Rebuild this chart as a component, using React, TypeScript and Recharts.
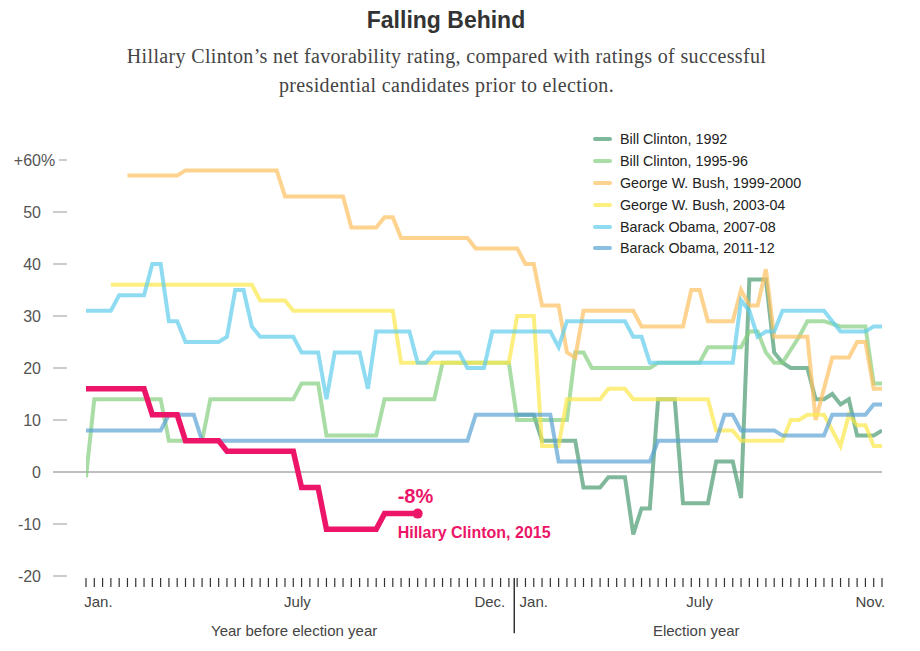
import { LineChart, Line, XAxis, YAxis, ReferenceLine, Legend } from "recharts";

// x values are weeks, counted from Jan. 1 of the year before the election
const weekTicks = Array.from({ length: 97 }, (_, i) => i);
const monthTickWeeks = [1.5, 25.5, 48.7, 54, 74, 94.6];
const monthTickLabels = ["Jan.", "July", "Dec.", "Jan.", "July", "Nov."];
const sectionTickWeeks = [25.1, 73.6];
const sectionTickLabels = ["Year before election year", "Election year"];
const yTicks = [-20, -10, 0, 10, 20, 30, 40, 50, 60];
const yearBoundary = 51.65;

// [week, net favorability %]
const billClinton1992: [number, number][] = [
  [52, 11], [54, 11], [55, 6], [59, 6], [60, -3], [62, -3], [63, -1], [65, -1],
  [66, -12], [67, -7], [68, -7], [69, 14], [71, 14], [72, -6], [75, -6], [76, 2],
  [78, 2], [79, -5], [80, 37], [82, 37], [83, 23], [84, 21], [85, 20], [87, 20],
  [88, 14], [89, 14], [90, 15], [91, 13], [92, 14], [93, 7], [95, 7], [96, 8],
];
const billClinton1995: [number, number][] = [
  [0, -1], [1, 14], [9, 14], [10, 6], [14, 6], [15, 14], [25, 14], [26, 17],
  [28, 17], [29, 7], [35, 7], [36, 14], [42, 14], [43, 21], [51, 21], [52, 10],
  [58, 10], [59, 23], [60, 23], [61, 20], [68, 20], [69, 21], [74, 21], [75, 24],
  [79, 24], [80, 27], [81, 27], [82, 23], [83, 21], [84, 21], [86, 26], [87, 29],
  [89, 29], [91, 28], [94, 28], [95, 17], [96, 17],
];
const bush1999: [number, number][] = [
  [5, 57], [11, 57], [12, 58], [23, 58], [24, 53], [31, 53], [32, 47], [35, 47],
  [36, 49], [37, 49], [38, 45], [46, 45], [47, 43], [52, 43], [53, 40], [54, 40],
  [55, 32], [57, 32], [58, 23], [59, 22], [60, 31], [66, 31], [67, 28], [72, 28],
  [73, 35], [74, 35], [75, 29], [78, 29], [79, 35], [80, 32], [81, 32], [82, 39],
  [83, 26], [87, 26], [88, 10], [89, 16], [90, 22], [92, 22], [93, 25], [94, 25],
  [95, 16], [96, 16],
];
const bush2003: [number, number][] = [
  [3, 36], [20, 36], [21, 33], [24, 33], [25, 31], [37, 31], [38, 21], [51, 21],
  [52, 30], [54, 30], [55, 5], [57, 5], [58, 14], [62, 14], [63, 16], [65, 16],
  [66, 14], [75, 14], [76, 8], [78, 8], [79, 6], [84, 6], [85, 10], [86, 10],
  [87, 11], [89, 11], [90, 8], [91, 5], [92, 11], [93, 9], [94, 9], [95, 5], [96, 5],
];
const obama2007: [number, number][] = [
  [0, 31], [3, 31], [4, 34], [7, 34], [8, 40], [9, 40], [10, 29], [11, 29],
  [12, 25], [16, 25], [17, 26], [18, 35], [19, 35], [20, 28], [21, 26], [25, 26],
  [26, 23], [28, 23], [29, 14], [30, 23], [33, 23], [34, 16], [35, 27], [39, 27],
  [40, 21], [41, 21], [42, 23], [45, 23], [46, 20], [48, 20], [49, 27], [56, 27],
  [57, 24], [58, 29], [65, 29], [66, 26], [67, 26], [68, 21], [78, 21], [79, 33],
  [80, 31], [81, 26], [82, 27], [83, 27], [84, 31], [89, 31], [90, 29], [91, 27],
  [94, 27], [95, 28], [96, 28],
];
const obama2011: [number, number][] = [
  [0, 8], [9, 8], [10, 11], [13, 11], [14, 6], [46, 6], [47, 11], [56, 11],
  [57, 2], [68, 2], [69, 6], [76, 6], [77, 11], [78, 11], [79, 8], [83, 8],
  [84, 7], [89, 7], [90, 11], [94, 11], [95, 13], [96, 13],
];
const hillary2015: [number, number][] = [
  [0, 16], [7, 16], [8, 11], [11, 11], [12, 6], [16, 6], [17, 4], [25, 4],
  [26, -3], [28, -3], [29, -11], [35, -11], [36, -8], [40, -8],
];

const sans = "'Liberation Sans', Arial, sans-serif";
const pink = "#ec1568";

const series = [
  { name: "Bill Clinton, 1992", color: "#4a9a72", points: billClinton1992 },
  { name: "Bill Clinton, 1995-96", color: "#86cf80", points: billClinton1995 },
  { name: "George W. Bush, 1999-2000", color: "#fcc060", points: bush1999 },
  { name: "George W. Bush, 2003-04", color: "#fbe84a", points: bush2003 },
  { name: "Barack Obama, 2007-08", color: "#5fcdec", points: obama2007 },
  { name: "Barack Obama, 2011-12", color: "#5aa2d3", points: obama2011 },
];

const toRows = (pts: [number, number][]) => pts.map(([w, v]) => ({ w, v }));

function YTick({ x, y, payload }: any) {
  const v = payload.value;
  const top = v === 60;
  return (
    <g>
      {v !== 0 && (
        <line x1={x + (top ? 6 : 0)} x2={x + 14} y1={y} y2={y} stroke="#bbb" strokeWidth={1.5} />
      )}
      <text x={x - 12} y={y} dy={6} textAnchor="end" fill="#555" fontSize={16} fontFamily={sans}>
        {top ? "+60" : v}
      </text>
      {top && (
        <text x={x - 12} y={y} dy={6} textAnchor="start" fill="#555" fontSize={16} fontFamily={sans}>
          %
        </text>
      )}
    </g>
  );
}

function WeekTick({ x, y }: any) {
  return <line x1={x} x2={x} y1={y + 2} y2={y + 11} stroke="#333" strokeWidth={1.2} />;
}

function MonthTick({ x, y, index }: any) {
  return (
    <text x={x} y={y + 17} textAnchor="middle" fill="#444" fontSize={15} fontFamily={sans}>
      {monthTickLabels[index]}
    </text>
  );
}

function SectionTick({ x, y, index }: any) {
  return (
    <text x={x} y={y + 18} textAnchor="middle" fill="#444" fontSize={15} fontFamily={sans}>
      {sectionTickLabels[index]}
    </text>
  );
}

function LegendBox() {
  return (
    <div style={{ fontFamily: sans, fontSize: 14.3, color: "#222" }}>
      {series.map((s) => (
        <div key={s.name} style={{ display: "flex", alignItems: "center", height: 21.9 }}>
          <span
            style={{
              display: "inline-block",
              width: 19,
              height: 4,
              borderRadius: 2,
              background: s.color,
              opacity: 0.7,
              marginRight: 8,
            }}
          />
          {s.name}
        </div>
      ))}
    </div>
  );
}

const renderHillaryEnd = (props: any) => {
  const { cx, cy, index, payload } = props;
  if (index !== hillary2015.length - 1) return <g key={index} />;
  return (
    <g key={index}>
      <circle cx={cx} cy={cy} r={5} fill={pink} />
      <text x={cx - 20} y={cy - 11} fill={pink} fontSize={20} fontWeight={700} fontFamily={sans}>
        {`${payload.v}%`}
      </text>
      <text x={cx - 20} y={cy + 24} fill={pink} fontSize={16} fontWeight={700} fontFamily={sans}>
        Hillary Clinton, 2015
      </text>
    </g>
  );
};

export default function App() {
  const xProps = {
    type: "number" as const,
    dataKey: "w",
    domain: [0, 96],
    allowDataOverflow: true,
    padding: { left: 33, right: 0 },
    axisLine: false,
    tickLine: false,
    tickSize: 0,
    tickMargin: 0,
    interval: 0 as const,
  };
  return (
    <div style={{ position: "absolute", left: 0, top: 0, width: 920, height: 651, background: "#fff" }}>
      <div
        style={{
          position: "absolute",
          top: 7,
          left: 0,
          width: 892,
          textAlign: "center",
          fontFamily: sans,
          fontWeight: 700,
          fontSize: 23,
          lineHeight: "26px",
          color: "#333",
        }}
      >
        Falling Behind
      </div>
      <div
        style={{
          position: "absolute",
          top: 42,
          left: 0,
          width: 893,
          textAlign: "center",
          fontFamily: "'Liberation Serif', 'DejaVu Serif', serif",
          fontSize: 20,
          letterSpacing: 0.35,
          lineHeight: "29px",
          color: "#444",
        }}
      >
        Hillary Clinton’s net favorability rating, compared with ratings of successful
        <br />
        presidential candidates prior to election.
      </div>
      <LineChart width={920} height={651} margin={{ top: 160, right: 38, bottom: 5, left: 0 }}>
        <XAxis xAxisId="a-weeks" {...xProps} ticks={weekTicks} height={14} tick={<WeekTick />} />
        <XAxis xAxisId="b-months" {...xProps} ticks={monthTickWeeks} height={28} tick={<MonthTick />} />
        <XAxis xAxisId="c-sections" {...xProps} ticks={sectionTickWeeks} height={28} tick={<SectionTick />} />
        <YAxis
          type="number"
          domain={[-20, 60]}
          ticks={yTicks}
          width={53}
          axisLine={false}
          tickLine={false}
          tickSize={0}
          tickMargin={0}
          interval={0}
          tick={<YTick />}
        />
        <ReferenceLine xAxisId="a-weeks" y={0} stroke="#aaa" strokeWidth={1.5} />
        <ReferenceLine
          xAxisId="a-weeks"
          ifOverflow="visible"
          segment={[
            { x: yearBoundary, y: -20.4 },
            { x: yearBoundary, y: -31 },
          ]}
          stroke="#333"
          strokeWidth={1.5}
        />
        <Legend
          layout="vertical"
          align="center"
          verticalAlign="middle"
          content={<LegendBox />}
          wrapperStyle={{ left: 593, top: 128, width: 260 }}
        />
        {series.map((s) => (
          <Line
            key={s.name}
            xAxisId="a-weeks"
            data={toRows(s.points)}
            dataKey="v"
            name={s.name}
            type="linear"
            stroke={s.color}
            strokeOpacity={0.7}
            strokeWidth={4}
            dot={false}
            activeDot={false}
            isAnimationActive={false}
          />
        ))}
        <Line
          xAxisId="a-weeks"
          data={toRows(hillary2015)}
          dataKey="v"
          name="Hillary Clinton, 2015"
          type="linear"
          stroke={pink}
          strokeWidth={5.5}
          dot={renderHillaryEnd}
          activeDot={false}
          isAnimationActive={false}
        />
      </LineChart>
    </div>
  );
}
